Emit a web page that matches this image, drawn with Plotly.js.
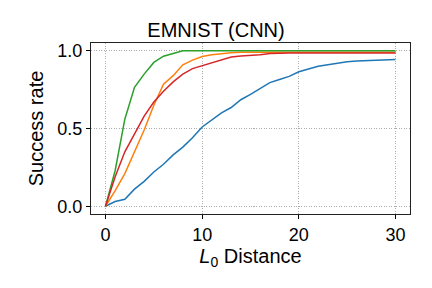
<!DOCTYPE html>
<html>
<head>
<meta charset="utf-8">
<script src="https://cdn.plot.ly/plotly-3.0.1.min.js"></script>
<style>html,body{margin:0;padding:0;background:#fff;}#chart{width:432px;height:288px;}</style>
</head>
<body>
<div id="chart"></div>
<script>
var distance = [0,1,2,3,4,5,6,7,8,9,10,11,12,13,14,15,16,17,18,19,20,21,22,23,24,25,26,27,28,29,30];
var seriesBlue   = [0,0.03,0.045,0.11,0.16,0.22,0.27,0.33,0.38,0.44,0.51,0.555,0.60,0.635,0.685,0.72,0.76,0.795,0.815,0.835,0.865,0.885,0.90,0.91,0.92,0.93,0.935,0.938,0.94,0.943,0.944];
var seriesOrange = [0,0.10,0.21,0.35,0.49,0.65,0.785,0.84,0.91,0.94,0.963,0.975,0.983,0.988,0.99,0.99,0.99,0.99,0.99,0.99,0.99,0.99,0.99,0.99,0.99,0.99,0.99,0.99,0.99,0.99,0.99];
var seriesGreen  = [0,0.23,0.56,0.765,0.85,0.925,0.965,0.985,1,1,1,1,1,1,1,1,1,1,1,1,1,1,1,1,1,1,1,1,1,1,1];
var seriesRed    = [0,0.19,0.35,0.47,0.58,0.67,0.74,0.80,0.85,0.885,0.905,0.92,0.94,0.96,0.967,0.97,0.975,0.982,0.985,0.985,0.985,0.985,0.985,0.985,0.985,0.985,0.985,0.985,0.985,0.985,0.985];
var xTicks = [0,10,20,30];
var yTicks = [0,0.5,1];
var yTickText = ['0.0','0.5','1.0'];

var colors = ['#1f77b4','#ff7f0e','#2ca02c','#d62728'];
var all = [seriesBlue, seriesOrange, seriesGreen, seriesRed];
var traces = all.map(function(s,i){
  return {x: distance, y: s, type:'scatter', mode:'lines', line:{color:colors[i], width:1.5}, showlegend:false, hoverinfo:'skip'};
});
var font = 'Liberation Sans, Arial, sans-serif';
var layout = {
  width:432, height:288,
  margin:{l:91, r:22, t:43, b:74, pad:0},
  paper_bgcolor:'#fff', plot_bgcolor:'#fff',
  font:{family:font, color:'#000'},
  title:{text:'EMNIST (CNN)', font:{size:20, family:font, color:'#000'}, x:0.5, xanchor:'center', y:1, yanchor:'bottom', yref:'paper', pad:{b:6}},
  xaxis:{range:[-1.5,31.5], tickvals:xTicks, ticks:'outside', ticklen:4, tickwidth:1, tickcolor:'#000',
    showline:true, mirror:true, linecolor:'#222', linewidth:1, zeroline:false,
    showgrid:true, gridcolor:'#999999', griddash:'1px,1.5px', gridwidth:0.8,
    tickfont:{size:18}, title:{text:'<i>L</i><sub>0</sub> Distance', font:{size:20}, standoff:1}},
  yaxis:{range:[-0.05,1.05], tickvals:yTicks, ticktext:yTickText, ticks:'outside', ticklen:4, tickwidth:1, tickcolor:'#000',
    showline:true, mirror:true, linecolor:'#222', linewidth:1, zeroline:false,
    showgrid:true, gridcolor:'#999999', griddash:'1px,1.5px', gridwidth:0.8,
    tickfont:{size:18}, title:{text:'Success rate', font:{size:20}, standoff:8}}
};
Plotly.newPlot('chart', traces, layout, {staticPlot:true, displayModeBar:false});
</script>
</body>
</html>
